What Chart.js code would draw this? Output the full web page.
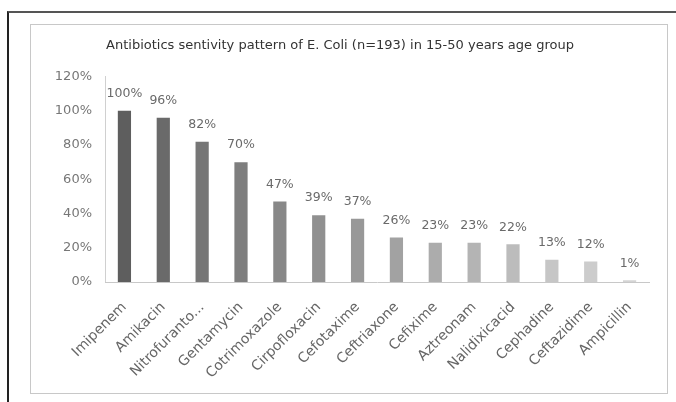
<!DOCTYPE html>
<html>
<head>
<meta charset="utf-8">
<script src="https://cdn.jsdelivr.net/npm/chart.js@4"></script>
<style>
  html, body { margin: 0; padding: 0; background: #fff; }
  body { width: 676px; height: 402px; position: relative; overflow: hidden; }
  .frame { position: absolute; left: 7px; top: 11px; width: 680px; height: 400px;
           border-left: 2px solid #222; border-top: 2px solid #555; }
  .box { position: absolute; left: 30px; top: 24px; width: 636px; height: 368px;
         border: 1px solid #c8c8c8; }
  #wrap { position: absolute; left: 31px; top: 25px; width: 636px; height: 368px; }
</style>
</head>
<body>
<div class="frame"></div>
<div class="box"></div>
<div id="wrap"><canvas id="chart"></canvas></div>
<script>
// 抗生素敏感性資料
const drugs = ['Imipenem', 'Amikacin', 'Nitrofuranto...', 'Gentamycin', 'Cotrimoxazole',
  'Cirpofloxacin', 'Cefotaxime', 'Ceftriaxone', 'Cefixime', 'Aztreonam',
  'Nalidixicacid', 'Cephadine', 'Ceftazidime', 'Ampicillin'];
const sensitivity = [100, 96, 82, 70, 47, 39, 37, 26, 23, 23, 22, 13, 12, 1];
const yTicks = [0, 20, 40, 60, 80, 100, 120];

const barColors = ['#5e5e5e', '#6a6a6a', '#767676', '#7e7e7e', '#888888', '#909090',
  '#989898', '#a2a2a2', '#acacac', '#b4b4b4', '#bcbcbc', '#c6c6c6', '#cccccc', '#d4d4d4'];

const FONT = '"DejaVu Sans", sans-serif';

// 在長條上方畫出百分比
const valueLabels = {
  id: 'valueLabels',
  afterDatasetsDraw(chart) {
    const ctx = chart.ctx;
    const meta = chart.getDatasetMeta(0);
    ctx.save();
    ctx.font = '12.5px ' + FONT;
    ctx.fillStyle = '#6a6a6a';
    ctx.textAlign = 'center';
    ctx.textBaseline = 'middle';
    meta.data.forEach((bar, i) => {
      ctx.fillText(sensitivity[i] + '%', bar.x, bar.y - 17);
    });
    ctx.restore();
  }
};

new Chart(document.getElementById('chart'), {
  type: 'bar',
  data: {
    labels: drugs,
    datasets: [{
      data: sensitivity,
      backgroundColor: barColors,
      barPercentage: 0.34,
      categoryPercentage: 1
    }]
  },
  options: {
    responsive: true,
    maintainAspectRatio: false,
    animation: false,
    layout: { padding: { left: 0, right: 18, top: 0, bottom: 0 } },
    plugins: {
      legend: { display: false },
      tooltip: { enabled: false },
      title: {
        display: true,
        text: 'Antibiotics sentivity pattern of E. Coli (n=193) in 15-50 years age group',
        color: '#333',
        font: { family: FONT, size: 13, weight: 'normal' },
        padding: { top: 13, bottom: 23 }
      }
    },
    scales: {
      y: {
        min: 0,
        max: 120,
        afterBuildTicks(scale) { scale.ticks = yTicks.map(v => ({ value: v })); },
        afterFit(scale) { scale.width = 74; },
        grid: { display: false, drawTicks: false },
        border: { display: true, color: '#d0d0d0' },
        ticks: {
          color: '#777',
          padding: 13,
          font: { family: FONT, size: 13 },
          callback: v => v + '%'
        }
      },
      x: {
        afterFit(scale) { scale.height = 111; },
        grid: { display: false, drawTicks: false },
        border: { display: true, color: '#c8c8c8' },
        ticks: {
          color: '#666',
          padding: 17,
          minRotation: 45,
          maxRotation: 45,
          autoSkip: false,
          font: { family: FONT, size: 14 }
        }
      }
    }
  },
  plugins: [valueLabels]
});
</script>
</body>
</html>
